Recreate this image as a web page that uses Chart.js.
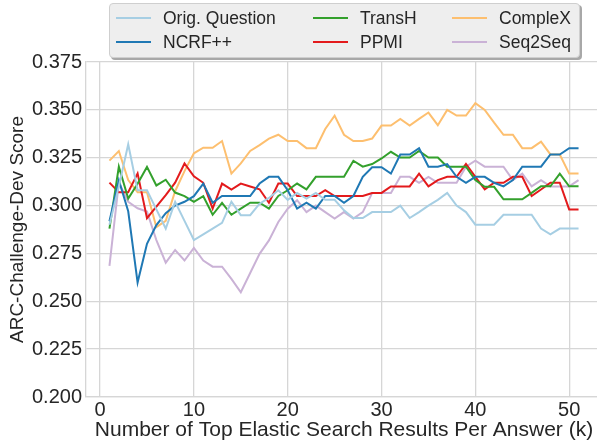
<!DOCTYPE html>
<html>
<head>
<meta charset="utf-8" />
<title>ARC-Challenge-Dev Score</title>
<script src="https://cdn.jsdelivr.net/npm/chart.js"></script>
<style>
    body {
        margin: 0;
        width: 597px;
        height: 445px;
        overflow: hidden;
        background: #ffffff;
        font-family: "Liberation Sans", Arial, sans-serif;
    }
    #wrap {
        position: absolute;
        left: 0;
        top: 0;
        width: 605px;
        height: 445px;
    }
    #legend {
        position: absolute;
        left: 109px;
        top: 3px;
        width: 469px;
        height: 53px;
        background: #eeeeee;
        border: 1px solid #cfcfcf;
        border-radius: 4px;
        box-shadow: 2px 2px 0 #a8a8a8;
        color: #262626;
        font-size: 17.5px;
    }
    .item {
        position: absolute;
        height: 20px;
        line-height: 20px;
        white-space: nowrap;
    }
    .item i {
        position: absolute;
        left: 0;
        top: 9px;
        width: 35px;
        height: 2px;
    }
    .item span {
        position: absolute;
        left: 47px;
        top: 0;
    }
</style>
</head>
<body>
<div id="wrap"><canvas id="chart"></canvas></div>
<div id="legend"></div>

<script>
    // k = 1..51
    const kValues = [];
    for (let k = 1; k <= 51; k++) kValues.push(k);

    const xTicks = [0, 10, 20, 30, 40, 50];
    const yTicks = [0.200, 0.225, 0.250, 0.275, 0.300, 0.325, 0.350, 0.375];

    const seriesNames = ['Orig. Question', 'NCRF++', 'TransH', 'PPMI', 'CompleX', 'Seq2Seq'];
    const seriesColors = ['#a6cee3', '#1f78b4', '#33a02c', '#e31a1c', '#fdbf6f', '#cab2d6'];

    const origQuestion = [
        0.290, 0.310, 0.332, 0.308, 0.308, 0.298, 0.288, 0.302, 0.292, 0.282,
        0.285, 0.288, 0.291, 0.302, 0.295, 0.295, 0.301, 0.304, 0.308, 0.303,
        0.3066, 0.3036, 0.3066, 0.303, 0.303, 0.2975, 0.2935, 0.2935, 0.2966, 0.2966,
        0.2966, 0.300, 0.2935, 0.2966, 0.300, 0.303, 0.3066, 0.300, 0.2966, 0.290,
        0.290, 0.290, 0.2952, 0.2952, 0.2952, 0.2952, 0.288, 0.285, 0.288, 0.288,
        0.288
    ];
    const ncrf = [
        0.2918, 0.3133, 0.297, 0.2598, 0.280, 0.2898, 0.296, 0.300, 0.302, 0.3049,
        0.3115, 0.3015, 0.305, 0.305, 0.305, 0.305, 0.3115, 0.315, 0.315, 0.308,
        0.2984, 0.3015, 0.2984, 0.305, 0.305, 0.3015, 0.305, 0.315, 0.320, 0.320,
        0.3167, 0.3267, 0.3267, 0.330, 0.3203, 0.3203, 0.3217, 0.315, 0.3119, 0.315,
        0.315, 0.3119, 0.310, 0.3133, 0.3203, 0.3203, 0.3203, 0.3267, 0.3267, 0.330,
        0.330
    ];
    const transH = [
        0.288, 0.3203, 0.3037, 0.3114, 0.3202, 0.3105, 0.3135, 0.3068, 0.3049, 0.3019,
        0.3049, 0.2952, 0.3014, 0.2952, 0.2984, 0.3015, 0.3015, 0.2984, 0.305, 0.308,
        0.3115, 0.3085, 0.315, 0.315, 0.315, 0.315, 0.3234, 0.3203, 0.3217, 0.3246,
        0.3281, 0.3251, 0.3251, 0.3285, 0.3251, 0.3251, 0.3203, 0.3203, 0.3203, 0.3133,
        0.3098, 0.3098, 0.3033, 0.3033, 0.3033, 0.3066, 0.3101, 0.3101, 0.3167, 0.3101,
        0.3101
    ];
    const ppmi = [
        0.312, 0.307, 0.307, 0.3168, 0.2934, 0.2995, 0.3055, 0.312, 0.322, 0.3153,
        0.3119, 0.2984, 0.3115, 0.3084, 0.3115, 0.310, 0.3085, 0.3015, 0.3115, 0.3115,
        0.305, 0.305, 0.305, 0.308, 0.305, 0.305, 0.305, 0.305, 0.3066, 0.3066,
        0.310, 0.310, 0.310, 0.3167, 0.310, 0.3133, 0.315, 0.315, 0.3217, 0.315,
        0.3085, 0.3119, 0.3119, 0.315, 0.315, 0.305, 0.3084, 0.3119, 0.3119, 0.298,
        0.298
    ];
    const compleX = [
        0.3235, 0.3285, 0.3133, 0.307, 0.307, 0.2887, 0.292, 0.3075, 0.318, 0.3273,
        0.3302, 0.3302, 0.3337, 0.3167, 0.322, 0.3285, 0.3316, 0.335, 0.337, 0.3337,
        0.3337, 0.330, 0.330, 0.340, 0.347, 0.337, 0.3337, 0.3337, 0.335, 0.3418,
        0.3418, 0.3453, 0.3418, 0.3453, 0.3486, 0.342, 0.350, 0.347, 0.347, 0.3535,
        0.350, 0.3433, 0.337, 0.337, 0.330, 0.330, 0.3334, 0.3267, 0.3267, 0.3167,
        0.3167
    ];
    const seq2seq = [
        0.2685, 0.312, 0.302, 0.2986, 0.2969, 0.282, 0.2702, 0.2768, 0.2713, 0.2779,
        0.2713, 0.2681, 0.2681, 0.2617, 0.2547, 0.2648, 0.2748, 0.2818, 0.2914, 0.2984,
        0.3028, 0.2966, 0.300, 0.2966, 0.2932, 0.2966, 0.2932, 0.2966, 0.3066, 0.3066,
        0.3066, 0.315, 0.315, 0.3119, 0.315, 0.3119, 0.3119, 0.3119, 0.3203, 0.3234,
        0.3203, 0.3203, 0.3203, 0.3133, 0.3167, 0.310, 0.3133, 0.310, 0.310, 0.310,
        0.3133
    ];

    const seriesValues = [origQuestion, ncrf, transH, ppmi, compleX, seq2seq];

    const textColor = '#262626';
    const gridColor = '#d6d6d6';
    const fontFamily = '"Liberation Sans", Arial, sans-serif';

    const datasets = seriesNames.map((name, i) => ({
        label: name,
        data: kValues.map((k, j) => ({ x: k, y: seriesValues[i][j] })),
        borderColor: seriesColors[i],
        backgroundColor: seriesColors[i],
        borderWidth: 2,
        pointRadius: 0,
        tension: 0,
        fill: false
    }));

    const ctx = document.getElementById('chart').getContext('2d');
    const chart = new Chart(ctx, {
        type: 'line',
        data: { datasets: datasets },
        options: {
            responsive: true,
            maintainAspectRatio: false,
            animation: false,
            devicePixelRatio: 1,
            layout: {
                padding: { top: 62, right: 3, left: 0, bottom: 0 }
            },
            plugins: {
                legend: { display: false },
                tooltip: { enabled: false }
            },
            scales: {
                x: {
                    type: 'linear',
                    min: -1.5,
                    max: 53.5,
                    afterBuildTicks: scale => {
                        scale.ticks = xTicks.map(v => ({ value: v }));
                    },
                    afterFit: scale => { scale.height = 48; },
                    ticks: {
                        color: textColor,
                        font: { family: fontFamily, size: 20 },
                        padding: 1,
                        maxRotation: 0,
                        callback: v => v
                    },
                    grid: {
                        color: gridColor,
                        lineWidth: 1.3,
                        drawTicks: false
                    },
                    border: { color: gridColor, width: 1.3 },
                    title: {
                        display: true,
                        text: 'Number of Top Elastic Search Results Per Answer (k)',
                        color: textColor,
                        font: { family: fontFamily, size: 21 },
                        padding: { top: 0, bottom: 2 }
                    }
                },
                y: {
                    min: 0.2,
                    max: 0.375,
                    afterBuildTicks: scale => {
                        scale.ticks = yTicks.map(v => ({ value: v }));
                    },
                    afterFit: scale => { scale.width = 86; },
                    ticks: {
                        color: textColor,
                        font: { family: fontFamily, size: 20 },
                        padding: 4,
                        callback: v => Number(v).toFixed(3)
                    },
                    grid: {
                        color: gridColor,
                        lineWidth: 1.3,
                        drawTicks: false
                    },
                    border: { color: gridColor, width: 1.3 },
                    title: {
                        display: true,
                        text: 'ARC-Challenge-Dev Score',
                        color: textColor,
                        font: { family: fontFamily, size: 19 },
                        padding: { top: 6, bottom: 0 }
                    }
                }
            }
        }
    });

    // legend: 3 columns, filled column by column
    const legend = document.getElementById('legend');
    const colX = [6, 203, 342];
    const rowY = [4, 28];
    seriesNames.forEach((name, i) => {
        const col = Math.floor(i / 2);
        const row = i % 2;
        const item = document.createElement('div');
        item.className = 'item';
        item.style.left = colX[col] + 'px';
        item.style.top = rowY[row] + 'px';
        const swatch = document.createElement('i');
        swatch.style.background = seriesColors[i];
        const label = document.createElement('span');
        label.textContent = name;
        item.appendChild(swatch);
        item.appendChild(label);
        legend.appendChild(item);
    });
</script>
</body>
</html>
